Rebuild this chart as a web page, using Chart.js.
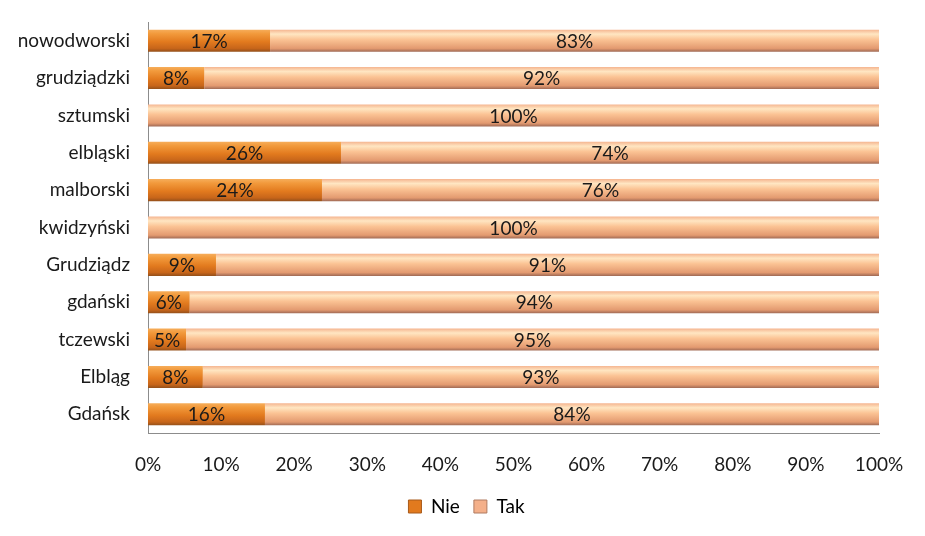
<!DOCTYPE html>
<html>
<head>
<meta charset="utf-8">
<script src="https://cdn.jsdelivr.net/npm/chart.js@4"></script>
<style>
  html, body { margin: 0; padding: 0; background: #fff; }
  #wrap { width: 925px; height: 536px; }
</style>
</head>
<body>
<div id="wrap"><canvas id="chart"></canvas></div>
<script>
const categories = ["nowodworski", "grudziądzki", "sztumski", "elbląski", "malborski", "kwidzyński", "Grudziądz", "gdański", "tczewski", "Elbląg", "Gdańsk"];
const nieValues = [16.7, 7.7, 0, 26.4, 23.8, 0, 9.3, 5.7, 5.2, 7.5, 16.0];
const takValues = [83.3, 92.3, 100, 73.6, 76.2, 100, 90.7, 94.3, 94.8, 92.5, 84.0];
const xTicks = [0, 10, 20, 30, 40, 50, 60, 70, 80, 90, 100];

const FONT = "Lato, 'Open Sans', sans-serif";

const palettes = [
  [[0, "#f6ad5a"], [0.18, "#f29a3c"], [0.55, "#e27a1e"], [0.85, "#c7651a"], [1, "#94501a"]],
  [[0, "#f5b590"], [0.2, "#ffe6c2"], [0.45, "#fbc394"], [0.85, "#e39a70"], [1, "#a06a55"]]
];

// per-bar vertical gradient, using the bar positions from the library
const gradientPlugin = {
  id: "gradients",
  afterLayout(chart) {
    // legend sits centred on the whole canvas in the original
    chart.legend.left += 27;
    chart.legend.right += 27;
  },
  beforeDatasetsDraw(chart) {
    const ctx = chart.ctx;
    chart.data.datasets.forEach((ds, i) => {
      const meta = chart.getDatasetMeta(i);
      meta.data.forEach(bar => {
        const top = bar.y - bar.height / 2;
        const g = ctx.createLinearGradient(0, top, 0, top + bar.height);
        palettes[i].forEach(([s, c]) => g.addColorStop(s, c));
        bar.options.backgroundColor = g;
      });
    });
  }
};

const labelPlugin = {
  id: "barLabels",
  afterDatasetsDraw(chart) {
    const ctx = chart.ctx;
    ctx.save();
    ctx.font = "19px " + FONT;
    ctx.fillStyle = "#1a1a1a";
    ctx.textAlign = "center";
    ctx.textBaseline = "middle";
    chart.data.datasets.forEach((ds, i) => {
      chart.getDatasetMeta(i).data.forEach((bar, j) => {
        const v = ds.data[j];
        if (!v) return;
        const x = (bar.x + bar.base) / 2;
        ctx.fillText(Math.round(v) + "%", x, bar.y + 1);
      });
    });
    ctx.restore();
  }
};

new Chart(document.getElementById("chart"), {
  type: "bar",
  data: {
    labels: categories,
    datasets: [
      { label: "Nie", data: nieValues, backgroundColor: () => "#e27a1e", borderWidth: 0,
        barPercentage: 0.59, categoryPercentage: 1 },
      { label: "Tak", data: takValues, backgroundColor: () => "#f8bb8e", borderWidth: 0,
        barPercentage: 0.59, categoryPercentage: 1 }
    ]
  },
  options: {
    indexAxis: "y",
    responsive: true,
    maintainAspectRatio: false,
    animation: false,
    layout: { padding: { top: 22, right: 46, left: 0, bottom: 10 } },
    scales: {
      x: {
        stacked: true, min: 0, max: 100,
        grid: { display: false },
        border: { display: true, color: "#8c8c8c" },
        afterBuildTicks: axis => { axis.ticks = xTicks.map(v => ({ value: v })); },
        afterFit: axis => { axis.height = 50; axis.paddingLeft = 0; axis.paddingRight = 0; },
        ticks: { padding: 12, color: "#1a1a1a", font: { size: 19, family: FONT },
                 callback: v => v + "%" }
      },
      y: {
        stacked: true,
        grid: { display: false },
        border: { display: true, color: "#8c8c8c" },
        afterFit: axis => { axis.width = 148; axis.paddingTop = 0; axis.paddingBottom = 0; },
        ticks: { padding: 10, color: "#1a1a1a", font: { size: 19, family: FONT } }
      }
    },
    plugins: {
      legend: {
        position: "bottom",
        labels: {
          boxWidth: 13, boxHeight: 13, padding: 14, color: "#1a1a1a",
          font: { size: 19, family: FONT },
          generateLabels: () => [
            { text: "Nie", fillStyle: "#e27a1e", strokeStyle: "#a85a1a", lineWidth: 1, datasetIndex: 0 },
            { text: "Tak", fillStyle: "#f4b08a", strokeStyle: "#b07a60", lineWidth: 1, datasetIndex: 1 }
          ]
        }
      },
      tooltip: { enabled: false }
    }
  },
  plugins: [gradientPlugin, labelPlugin]
});
</script>
</body>
</html>
